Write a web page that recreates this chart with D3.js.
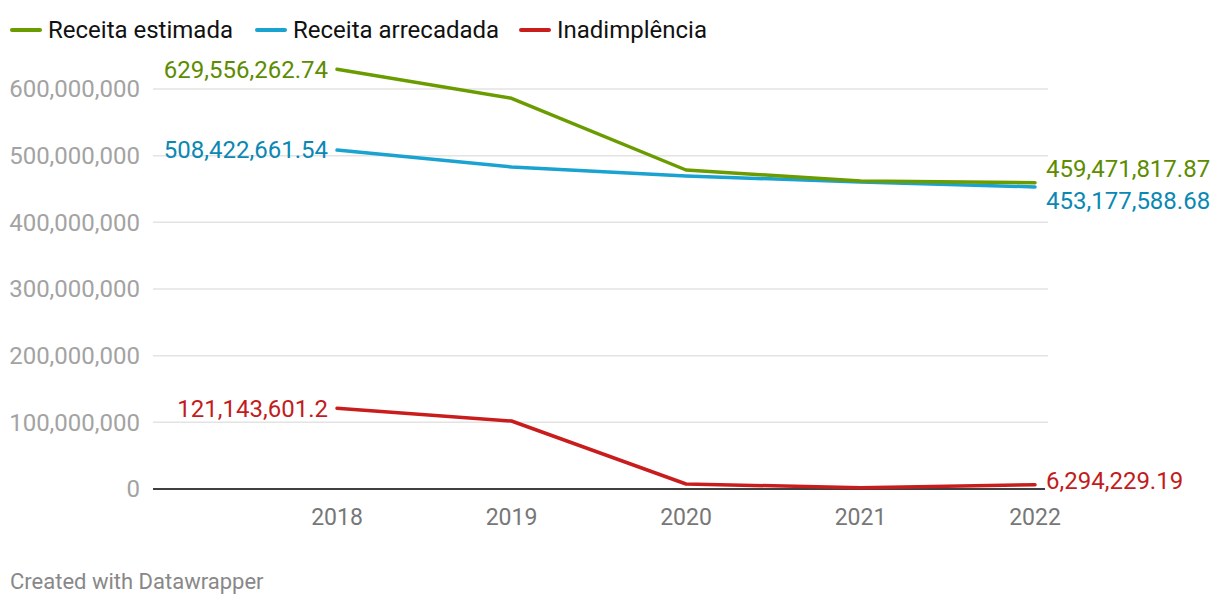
<!DOCTYPE html>
<html><head><meta charset="utf-8">
<script src="https://cdn.jsdelivr.net/npm/d3@7"></script>
<style>body{margin:0;background:#fff;font-family:Roboto,"Noto Sans",sans-serif;} svg{display:block}</style>
</head><body>
<svg id="c" width="1220" height="606"></svg>
<script>
const years = [2018, 2019, 2020, 2021, 2022];
const estimada = [629556262.74, 586000000, 478500000, 462000000, 459471817.87];
const arrecadada = [508422661.54, 483000000, 469500000, 460500000, 453177588.68];
const inadimplencia = [121143601.2, 102000000, 7500000, 2000000, 6294229.19];
const yTicks = [0, 100000000, 200000000, 300000000, 400000000, 500000000, 600000000];
const seriesNames = ["Receita estimada", "Receita arrecadada", "Inadimplência"];
const lineColors = ["#6a9c00", "#1aa2d0", "#c91d1d"];
const labelColors = ["#5d8c00", "#0a88b4", "#c21c1c"];

const svg = d3.select("#c");
const x = d3.scaleLinear().domain([2018, 2022]).range([337, 1035]);
const y = d3.scaleLinear().domain([0, 600000000]).range([489, 89]);
const fmt = v => d3.format(",")(v);

svg.append("g").selectAll("line").data(yTicks.filter(d => d > 0)).join("line")
  .attr("x1", 153).attr("x2", 1048).attr("y1", d => y(d)).attr("y2", d => y(d))
  .attr("stroke", "#e3e3e3").attr("stroke-width", 1.5);
svg.append("g").selectAll("text").data(yTicks).join("text")
  .attr("x", 140).attr("y", d => y(d)).attr("dy", "0.35em").attr("text-anchor", "end")
  .attr("font-size", 24).attr("fill", "#a3a3a3").text(d => fmt(d));
svg.append("line").attr("x1", 153).attr("x2", 1045).attr("y1", y(0)).attr("y2", y(0))
  .attr("stroke", "#000").attr("stroke-width", 1.6);
svg.append("g").selectAll("text").data(years).join("text")
  .attr("x", d => x(d)).attr("y", 525).attr("text-anchor", "middle")
  .attr("font-size", 23).attr("fill", "#777").text(d => d);

const data = [estimada, arrecadada, inadimplencia];
const line = d3.line().x((d, i) => x(years[i])).y(d => y(d));
[2, 1, 0].forEach(k => {
  svg.append("path").attr("d", line(data[k])).attr("fill", "none")
    .attr("stroke", lineColors[k]).attr("stroke-width", 3.5)
    .attr("stroke-linejoin", "round").attr("stroke-linecap", "round");
});
const rightDy = [-14, 14, -4];
data.forEach((s, k) => {
  svg.append("text").attr("x", x(years[0]) - 9).attr("y", y(s[0])).attr("dy", "0.35em")
    .attr("text-anchor", "end").attr("font-size", 24).attr("fill", labelColors[k]).text(fmt(s[0]));
  svg.append("text").attr("x", x(years[4]) + 11).attr("y", y(s[4]) + rightDy[k]).attr("dy", "0.35em")
    .attr("text-anchor", "start").attr("font-size", 24).attr("fill", labelColors[k]).text(fmt(s[4]));
});
const legX = [12, 257, 521];
seriesNames.forEach((n, k) => {
  svg.append("line").attr("x1", legX[k]).attr("x2", legX[k] + 28).attr("y1", 30).attr("y2", 30)
    .attr("stroke", lineColors[k]).attr("stroke-width", 4).attr("stroke-linecap", "round");
  svg.append("text").attr("x", legX[k] + 36).attr("y", 30).attr("dy", "0.35em")
    .attr("font-size", 24).attr("fill", "#111").text(n);
});
svg.append("text").attr("x", 10).attr("y", 589).attr("font-size", 22).attr("fill", "#888").text("Created with Datawrapper");
</script>
</body></html>
